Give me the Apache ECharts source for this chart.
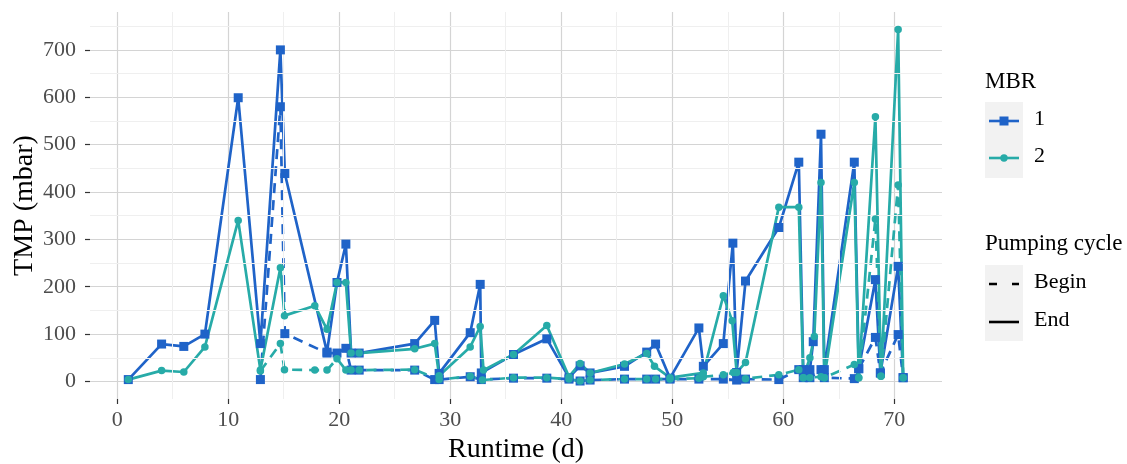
<!DOCTYPE html>
<html>
<head>
<meta charset="utf-8">
<script src="https://cdn.jsdelivr.net/npm/echarts@6/dist/echarts.min.js"></script>
<style>
html,body{margin:0;padding:0;background:#fff;}
#chart{width:1127px;height:464px;}
</style>
</head>
<body>
<div id="chart"></div>
<script>
// ---- data (runtime in days, TMP in mbar) ----
const mbr1End = [
  [1,4],[4,79],[6,74],[7.9,100],[10.9,599],[12.9,80],[14.7,700],[15.1,439],[18.9,62],[19.8,209],[20.6,290],
  [21.07,60],[21.8,60],[26.8,80],[28.6,129],[29.0,17],[31.8,103],[32.7,205],[32.8,18],[35.7,57],[38.7,90],
  [40.7,8],[41.7,33],[42.6,18],[45.7,32],[47.7,62],[48.5,79],[49.8,7],[52.4,113],[52.8,32],[54.6,80],
  [55.46,292],[55.8,19],[56.6,212],[59.6,325],[61.4,463],[61.8,25],[62.4,25],[62.7,84],[63.4,522],[63.7,25],
  [66.4,463],[66.8,27],[68.3,215],[68.75,18],[70.35,243],[70.8,8]
];
const mbr1Begin = [
  [12.9,4],[14.7,580],[15.1,101],[18.9,60],[19.8,60],[20.6,70],[21.07,24],[21.8,24],[26.8,24],[28.6,4],
  [29.0,4],[31.8,10],[32.8,4],[35.7,7],[38.7,7],[40.7,5],[41.7,1],[42.6,3],[45.7,5],[47.7,5],[48.5,5],
  [49.8,5],[52.4,5],[54.6,5],[55.8,3],[56.6,5],[59.6,4],[61.4,25],[61.8,8],[62.4,8],[63.4,25],[63.7,8],
  [66.4,6],[66.8,27],[68.3,93],[68.75,18],[70.35,99],[70.8,8]
];
const mbr2End = [
  [1,4],[4,23],[6,20],[7.9,73],[10.9,340],[12.9,24],[14.7,240],[15.07,139],[17.8,160],[18.9,110],[19.8,209],
  [20.6,209],[21.07,60],[21.8,60],[26.8,69],[28.6,80],[29.0,12],[31.8,73],[32.7,116],[33.0,24],[35.7,57],
  [38.7,118],[40.7,10],[41.7,38],[42.6,18],[45.7,37],[47.7,59],[48.4,32],[49.8,8],[52.8,18],[54.6,181],
  [55.4,128],[55.8,19],[56.6,40],[59.6,368],[61.4,368],[61.8,8],[62.4,50],[62.8,95],[63.4,420],[63.7,8],
  [66.4,420],[66.8,8],[68.3,559],[68.8,11],[70.35,743],[70.8,8]
];
const mbr2Begin = [
  [12.9,22],[14.7,80],[15.07,25],[17.8,24],[18.9,24],[19.8,48],[20.6,24],[21.07,24],[21.8,24],[26.8,25],
  [29.0,4],[31.8,11],[32.9,3],[35.7,8],[38.7,8],[40.7,5],[41.7,1],[42.6,3],[45.7,5],[47.7,5],[48.5,5],
  [49.8,5],[52.4,7],[52.8,10],[54.6,14],[55.5,19],[56.6,6],[59.6,14],[61.4,25],[61.8,8],[62.4,8],[63.4,10],
  [63.7,8],[66.4,36],[66.8,8],[68.3,343],[68.8,11],[70.35,415],[70.8,8]
];
const xTicks = [0,10,20,30,40,50,60,70];
const xMinor = [5,15,25,35,45,55,65];
const yTicks = [0,100,200,300,400,500,600,700];
const yMinor = [50,150,250,350,450,550,650,750];

const BLUE = '#1f63c8';
const TEAL = '#27aba8';
const FONT = '"Liberation Serif","Times New Roman",serif';

const MINOR = {color: '#efefef', width: 1, type: 'solid'};
const MAJOR = {color: '#d4d4d4', width: 1.2, type: 'solid'};
const minorLines = []
  .concat(xMinor.map(v => ({xAxis: v, lineStyle: MINOR})))
  .concat(yMinor.map(v => ({yAxis: v, lineStyle: MINOR})));

function lineSeries(data, color, dashed) {
  return {
    type: 'line', data: data, showSymbol: false, symbol: 'none', z: 3,
    lineStyle: {color: color, width: 2.7, type: dashed ? [10, 7] : 'solid'},
    animation: false, silent: true
  };
}
function pointSeries(data, color, sym, size) {
  return {
    type: 'scatter', data: data, symbol: sym, symbolSize: size, z: 5,
    itemStyle: {color: color, opacity: 1}, animation: false, silent: true
  };
}

const chart = echarts.init(document.getElementById('chart'), null, {renderer: 'canvas'});
chart.setOption({
  backgroundColor: '#ffffff',
  animation: false,
  grid: {left: 90, right: 185, top: 12, bottom: 65, containLabel: false, outerBoundsMode: 'none'},
  xAxis: {
    type: 'value', min: -2.45, max: 74.3,
    splitLine: {show: true, lineStyle: MAJOR},
    axisLine: {show: false, onZero: false},
    axisTick: {show: true, customValues: xTicks, length: 5, lineStyle: {color: '#333333', width: 1.2}},
    axisLabel: {customValues: xTicks, color: '#4d4d4d', fontFamily: FONT, fontSize: 22, margin: 10},
    name: 'Runtime (d)', nameLocation: 'middle', nameGap: 37, nameMoveOverlap: false,
    nameTextStyle: {color: '#000000', fontFamily: FONT, fontSize: 28}
  },
  yAxis: {
    type: 'value', min: -37, max: 780,
    splitLine: {show: true, lineStyle: MAJOR},
    axisLine: {show: false, onZero: false},
    axisTick: {show: true, customValues: yTicks, length: 5, lineStyle: {color: '#333333', width: 1.2}},
    axisLabel: {customValues: yTicks, color: '#4d4d4d', fontFamily: FONT, fontSize: 22, margin: 14},
    name: 'TMP (mbar)', nameLocation: 'middle', nameGap: 51, nameRotate: 90, nameMoveOverlap: false,
    nameTextStyle: {color: '#000000', fontFamily: FONT, fontSize: 28}
  },
  series: [
    {
      type: 'line', data: [], z: 1, silent: true, animation: false,
      markLine: {silent: true, symbol: ['none', 'none'], label: {show: false}, animation: false, data: minorLines}
    },
    lineSeries(mbr1Begin, BLUE, true),
    lineSeries(mbr1End, BLUE, false),
    lineSeries(mbr2Begin, TEAL, true),
    lineSeries(mbr2End, TEAL, false),
    pointSeries(mbr1Begin.concat(mbr1End), BLUE, 'rect', 9),
    pointSeries(mbr2Begin.concat(mbr2End), TEAL, 'circle', 7.5)
  ],
  graphic: [
    {type: 'text', left: 985, top: 70, style: {text: 'MBR', font: '23px ' + FONT, fill: '#000'}},
    {type: 'rect', shape: {x: 985, y: 102, width: 38, height: 76}, style: {fill: '#f2f2f2'}},
    {type: 'line', shape: {x1: 989, y1: 121, x2: 1019, y2: 121}, style: {stroke: BLUE, lineWidth: 2.6}},
    {type: 'rect', shape: {x: 999.5, y: 116.5, width: 9, height: 9}, style: {fill: BLUE}},
    {type: 'line', shape: {x1: 989, y1: 158, x2: 1019, y2: 158}, style: {stroke: TEAL, lineWidth: 2.6}},
    {type: 'circle', shape: {cx: 1004, cy: 158, r: 3.7}, style: {fill: TEAL}},
    {type: 'text', left: 1034, top: 108, style: {text: '1', font: '22px ' + FONT, fill: '#000'}},
    {type: 'text', left: 1034, top: 145, style: {text: '2', font: '22px ' + FONT, fill: '#000'}},
    {type: 'text', left: 985, top: 232, style: {text: 'Pumping cycle', font: '23px ' + FONT, fill: '#000'}},
    {type: 'rect', shape: {x: 985, y: 265, width: 38, height: 76}, style: {fill: '#f2f2f2'}},
    {type: 'line', shape: {x1: 989, y1: 284, x2: 1019, y2: 284}, style: {stroke: '#000', lineWidth: 2.6, lineDash: [8, 15]}},
    {type: 'line', shape: {x1: 989, y1: 322, x2: 1019, y2: 322}, style: {stroke: '#000', lineWidth: 2.6}},
    {type: 'text', left: 1034, top: 271, style: {text: 'Begin', font: '22px ' + FONT, fill: '#000'}},
    {type: 'text', left: 1034, top: 309, style: {text: 'End', font: '22px ' + FONT, fill: '#000'}}
  ]
});
</script>
</body>
</html>
